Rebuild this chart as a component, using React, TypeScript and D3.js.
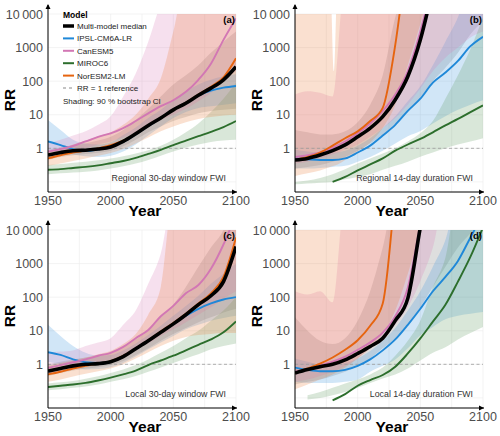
import React from 'react';
import * as d3 from 'd3';

// shared x grid for every series (10-year steps)
const years = [1950, 1960, 1970, 1980, 1990, 2000, 2010, 2020, 2030, 2040, 2050, 2060, 2070, 2080, 2090, 2100];
const yTicks = [1, 10, 100, 1000, 10000];
const yTickLabels = ['1', '10', '100', '1000', '10\u2009000'];
const xTicks = [1950, 2000, 2050, 2100];
const BIG = 1e5; // off the top of the chart

// (a) Regional 30-day window FWI
const a_med = [0.63, 0.75, 0.85, 0.88, 0.95, 1.1, 1.6, 2.7, 4.8, 8, 14, 22, 38, 62, 110, 270];
const a_medLo = [0.45, 0.55, 0.62, 0.68, 0.74, 0.85, 1.15, 1.8, 3, 4.5, 6.5, 8.5, 11, 13, 14, 15];
const a_medHi = [0.9, 1.05, 1.2, 1.4, 1.7, 2.2, 3.5, 7, 15, 35, 80, 150, 300, 700, 1500, 3000];
const a_ipsl = [1.6, 1.25, 0.95, 0.83, 0.92, 1.1, 1.55, 2.6, 4.6, 8, 14.5, 23, 37, 52, 64, 72];
const a_ipslLo = [0.9, 0.75, 0.65, 0.58, 0.55, 0.6, 0.8, 1.3, 2.4, 4.5, 8, 12, 16, 18, 20, 22];
const a_ipslHi = [7, 3.5, 1.8, 1.4, 1.3, 1.5, 2.5, 4.2, 8, 14, 28, 50, 80, 110, 140, 160];
const a_can = [0.8, 0.95, 1.17, 1.6, 2.2, 2.8, 4, 6.5, 11, 18, 27, 48, 110, 330, 1700, 7400];
const a_canLo = [0.55, 0.65, 0.8, 1.0, 1.3, 1.6, 2.1, 3, 4.5, 7, 10, 15, 25, 45, 100, 200];
const a_canHi = [1.4, 1.8, 2.4, 3.2, 5, 9, 35, 170, 1500, 20000, BIG, BIG, BIG, BIG, BIG, BIG];
const a_mir = [0.23, 0.24, 0.26, 0.28, 0.31, 0.36, 0.42, 0.52, 0.68, 0.9, 1.25, 1.7, 2.3, 3.1, 4.3, 6.5];
const a_mirLo = [0.17, 0.18, 0.19, 0.2, 0.22, 0.25, 0.29, 0.35, 0.45, 0.6, 0.8, 1.05, 1.3, 1.55, 1.7, 1.8];
const a_mirHi = [0.32, 0.34, 0.37, 0.4, 0.44, 0.5, 0.58, 0.7, 0.88, 1.2, 1.8, 3, 5.5, 12, 30, 90];
const a_nor = [0.5, 0.62, 0.75, 0.85, 1.0, 1.25, 1.7, 2.7, 4.8, 8, 14, 23, 40, 68, 130, 480];
const a_norLo = [0.3, 0.35, 0.42, 0.5, 0.6, 0.72, 0.95, 1.4, 2.1, 3.2, 4.5, 6, 7.5, 8.5, 9.5, 10];
const a_norHi = [0.8, 1, 1.3, 1.7, 2.3, 3, 5, 10, 30, 120, 3000, BIG, BIG, BIG, BIG, BIG];

// (b) Regional 14-day duration FWI
const b_med = [0.45, 0.5, 0.63, 0.85, 1.26, 2.2, 4, 8.8, 28, 137, 1700, 60000, null, null, null, null];
const b_medLo = [0.25, 0.28, 0.32, 0.4, 0.55, 0.85, 1.4, 2.6, 5.5, 14, 33, 100, 250, 700, 2500, 6000];
const b_medHi = [3.5, 3, 2.6, 2.6, 3.2, 6, 20, 150, 8000, BIG, BIG, BIG, BIG, BIG, BIG, BIG];
const b_ipsl = [0.5, 0.47, 0.45, 0.45, 0.5, 0.75, 1.2, 2.4, 5, 13, 30, 90, 180, 400, 1100, 2100];
const b_ipslLo = [0.25, 0.25, 0.26, 0.28, 0.3, 0.4, 0.55, 0.85, 1.4, 2.3, 3.3, 5.5, 9, 14, 20, 27];
const b_ipslHi = [0.9, 0.8, 0.75, 0.75, 0.85, 1.2, 2, 4, 9, 25, 70, 300, 1500, 8000, BIG, BIG];
const b_can = [0.55, 0.62, 0.75, 1.05, 1.6, 2.8, 5.5, 13, 40, 200, 3000, BIG, null, null, null, null];
const b_canLo = [0.35, 0.4, 0.5, 0.65, 0.9, 1.3, 2.2, 4, 8, 20, 60, 200, 500, 1000, 2000, 3000];
const b_canHi = [40, 50, 45, 35, BIG, BIG, BIG, BIG, BIG, BIG, BIG, BIG, BIG, BIG, BIG, BIG];
const b_mir = [null, null, null, 0.1, 0.14, 0.22, 0.33, 0.5, 0.85, 1.3, 1.9, 3.0, 4.8, 7.5, 12, 19];
const b_mirLo = [0.085, 0.09, 0.095, 0.1, 0.12, 0.14, 0.17, 0.23, 0.3, 0.4, 0.56, 0.75, 1.0, 1.3, 1.6, 2];
const b_mirHi = [0.1, 0.11, 0.13, 0.17, 0.24, 0.35, 0.5, 0.7, 1.0, 1.6, 2.8, 6.5, 30, 150, 900, 8000];
const b_nor = [0.45, 0.55, 0.75, 1.2, 2.0, 3.2, 6.5, 16, 1200, 1e6, null, null, null, null, null, null];
// NorESM2 CI in (b) has a narrow dip near 1981, so it gets its own year grid
const b_norCiYears = [1950, 1960, 1970, 1978, 1981, 1984, 1990, 2000, 2010, 2020, 2030, 2040, 2050, 2060];
const b_norLo = [0.15, 0.18, 0.22, 0.28, 0.3, 0.33, 0.45, 0.8, 1.5, 4, 20, 300, 5000, BIG];
const b_norHi = [BIG, BIG, BIG, BIG, 200, BIG, BIG, BIG, BIG, BIG, BIG, BIG, BIG, BIG];

// (c) Local 30-day window FWI
const c_med = [0.63, 0.75, 0.9, 1.0, 1.05, 1.2, 1.7, 2.9, 5, 9, 16, 30, 60, 110, 290, 3200];
const c_medLo = [0.45, 0.55, 0.65, 0.75, 0.82, 0.95, 1.25, 1.9, 3, 5, 8, 12, 18, 25, 35, 45];
const c_medHi = [1, 1.2, 1.4, 1.6, 1.8, 2.2, 3.2, 5.5, 10, 25, 60, 200, 800, 3000, 10000, BIG];
const c_ipsl = [2.3, 1.9, 1.4, 1.15, 1.1, 1.2, 1.7, 2.9, 5, 9, 16, 28, 45, 65, 85, 100];
const c_ipslLo = [1.2, 1.0, 0.8, 0.7, 0.72, 0.82, 1.1, 1.7, 2.8, 4.5, 7, 11, 15, 20, 24, 28];
const c_ipslHi = [15, 7, 3.5, 2.2, 1.8, 1.9, 2.6, 4.2, 7.5, 14, 28, 55, 110, 250, 500, 1000];
const c_can = [0.78, 0.95, 1.15, 1.4, 1.8, 2.2, 3.3, 6, 10.5, 27, 55, 130, 230, 700, 3700, 30000];
const c_canLo = [0.5, 0.6, 0.72, 0.88, 1.1, 1.4, 1.9, 2.8, 4.2, 7, 11, 18, 30, 50, 90, 150];
const c_canHi = [2.2, 2.4, 2.6, 3.5, 4.5, 6, 15, 40, 250, 2000, BIG, BIG, BIG, BIG, BIG, BIG];
const c_mir = [0.21, 0.23, 0.25, 0.28, 0.33, 0.4, 0.5, 0.65, 0.95, 1.3, 1.8, 2.6, 3.8, 5.5, 9, 19];
const c_mirLo = [0.17, 0.18, 0.2, 0.22, 0.25, 0.3, 0.36, 0.45, 0.6, 0.8, 1.1, 1.5, 2, 2.8, 3.5, 4.2];
const c_mirHi = [0.27, 0.29, 0.32, 0.37, 0.44, 0.55, 0.7, 0.95, 1.4, 2.2, 3.5, 6, 10, 20, 40, 100];
const c_nor = [0.5, 0.6, 0.75, 0.9, 1.05, 1.25, 1.8, 3, 5.2, 9.5, 17, 32, 65, 130, 400, 6000];
const c_norLo = [0.3, 0.35, 0.43, 0.52, 0.62, 0.75, 1, 1.5, 2.3, 3.5, 5, 6.5, 7.5, 8, 8.5, 8.5];
const c_norHi = [0.9, 1.1, 1.3, 1.6, 2, 2.5, 4, 8, 30, 200, BIG, BIG, BIG, BIG, BIG, BIG];

// (d) Local 14-day duration FWI
const d_med = [0.55, 0.7, 0.85, 1.0, 1.35, 2.1, 3.4, 6, 20, 92, 12000, 1e6, null, null, null, null];
const d_medLo = [0.25, 0.3, 0.35, 0.45, 0.6, 0.9, 1.5, 3, 6, 15, 50, 200, 800, 3000, 8000, 20000];
const d_medHi = [25, 10, 5, 4, 6, 20, 150, 3000, BIG, BIG, BIG, BIG, BIG, BIG, BIG, BIG];
const d_ipsl = [0.8, 0.68, 0.62, 0.62, 0.68, 0.9, 1.4, 2.6, 5.5, 15, 45, 150, 400, 1200, 6000, 30000];
const d_ipslLo = [0.3, 0.28, 0.28, 0.28, 0.3, 0.35, 0.6, 0.9, 1.4, 3, 7.4, 13, 22, 28, 32, 36];
const d_ipslHi = [1.5, 1.2, 1.0, 1.0, 1.1, 1.5, 2.5, 5, 12, 40, 150, 800, 5000, BIG, BIG, BIG];
const d_can = [0.6, 0.72, 0.92, 1.2, 1.7, 2.7, 4.5, 8.8, 27, 190, 15000, 1e6, null, null, null, null];
const d_canLo = [0.3, 0.35, 0.45, 0.6, 0.9, 1.5, 3, 6, 15, 50, 300, 3000, BIG, BIG, BIG, BIG];
const d_canHi = [150, 120, 150, 70, BIG, BIG, BIG, BIG, BIG, BIG, BIG, BIG, BIG, BIG, BIG, BIG];
const d_mir = [null, null, null, 0.085, 0.13, 0.23, 0.34, 0.48, 0.85, 2.1, 5.9, 18.6, 59, 290, 1600, 12000];
const d_mirLo = [null, 0.09, 0.1, 0.12, 0.15, 0.2, 0.28, 0.38, 0.5, 0.75, 1.3, 2.2, 3.2, 5.5, 8.5, 13];
const d_mirHi = [null, 0.12, 0.15, 0.2, 0.27, 0.35, 0.5, 0.8, 1.8, 5, 20, 200, 1500, BIG, BIG, BIG];
const d_nor = [0.55, 0.75, 1.05, 1.6, 2.7, 5.2, 14, 65, 2e5, null, null, null, null, null, null, null];
const d_norLo = [0.18, 0.25, 0.35, 0.5, 0.8, 1.5, 3, 8, 40, 500, 8000, BIG, BIG, BIG, BIG, BIG];
const d_norHi = [BIG, BIG, BIG, BIG, BIG, BIG, BIG, BIG, BIG, BIG, BIG, BIG, BIG, BIG, BIG, BIG];

const models = ['Multi-model median', 'IPSL-CM6A-LR', 'CanESM5', 'MIROC6', 'NorESM2-LM'];
const colors = ['#000000', '#1f88d8', '#d277b4', '#2c6e2c', '#e6640f'];
const ciColors = ['#8a8a8a', '#3d97dc', '#d87fb8', '#5f9a5f', '#ec7d3a'];

type Val = number | null;
interface Series { mid: Val[]; lo: Val[]; hi: Val[]; ciYears?: number[] }

const panels = [
  { tag: 'a', x0: 48, top: 14, note: 'Regional 30-day window FWI', legend: true,
    series: [
      { mid: a_med, lo: a_medLo, hi: a_medHi },
      { mid: a_ipsl, lo: a_ipslLo, hi: a_ipslHi },
      { mid: a_can, lo: a_canLo, hi: a_canHi },
      { mid: a_mir, lo: a_mirLo, hi: a_mirHi },
      { mid: a_nor, lo: a_norLo, hi: a_norHi },
    ] as Series[] },
  { tag: 'b', x0: 295, top: 14, note: 'Regional 14-day duration FWI', legend: false,
    series: [
      { mid: b_med, lo: b_medLo, hi: b_medHi },
      { mid: b_ipsl, lo: b_ipslLo, hi: b_ipslHi },
      { mid: b_can, lo: b_canLo, hi: b_canHi },
      { mid: b_mir, lo: b_mirLo, hi: b_mirHi },
      { mid: b_nor, lo: b_norLo, hi: b_norHi, ciYears: b_norCiYears },
    ] as Series[] },
  { tag: 'c', x0: 48, top: 230, note: 'Local 30-day window FWI', legend: false,
    series: [
      { mid: c_med, lo: c_medLo, hi: c_medHi },
      { mid: c_ipsl, lo: c_ipslLo, hi: c_ipslHi },
      { mid: c_can, lo: c_canLo, hi: c_canHi },
      { mid: c_mir, lo: c_mirLo, hi: c_mirHi },
      { mid: c_nor, lo: c_norLo, hi: c_norHi },
    ] as Series[] },
  { tag: 'd', x0: 295, top: 230, note: 'Local 14-day duration FWI', legend: false,
    series: [
      { mid: d_med, lo: d_medLo, hi: d_medHi },
      { mid: d_ipsl, lo: d_ipslLo, hi: d_ipslHi },
      { mid: d_can, lo: d_canLo, hi: d_canHi },
      { mid: d_mir, lo: d_mirLo, hi: d_mirHi },
      { mid: d_nor, lo: d_norLo, hi: d_norHi },
    ] as Series[] },
];

const PW = 188;
const PH = 178;
const FONT = '"Liberation Sans", Arial, Helvetica, sans-serif';

const Legend = ({ x, y }: { x: number; y: number }) => (
  <g fontFamily={FONT}>
    <text x={x} y={y + 7} fontSize={8.5} fontWeight="bold">Model</text>
    {models.map((m, i) => {
      const cy = y + 15 + i * 12.4;
      return (
        <g key={m}>
          <line x1={x} x2={x + 11} y1={cy} y2={cy} stroke={colors[i]} strokeWidth={i === 0 ? 3.5 : 2} />
          <text x={x + 14} y={cy + 3} fontSize={8} fill="#222">{m}</text>
        </g>
      );
    })}
    <line x1={x} x2={x + 11} y1={y + 77} y2={y + 77} stroke="#888" strokeWidth={1} strokeDasharray="3,3" />
    <text x={x + 14} y={y + 80} fontSize={8} fill="#222">RR = 1 reference</text>
    <text x={x} y={y + 92.5} fontSize={8} fill="#222">Shading: 90 % bootstrap CI</text>
  </g>
);

const Panel = ({ p }: { p: typeof panels[number] }) => {
  const x = d3.scaleLinear().domain([1950, 2100]).range([p.x0, p.x0 + PW]);
  const y = d3.scaleLog().domain([0.05, 10000]).range([p.top + PH, p.top]);
  const bottom = p.top + PH;
  const clipId = `clip-${p.tag}`;

  const line = d3.line<[number, Val]>()
    .defined(d => d[1] != null)
    .x(d => x(d[0]))
    .y(d => y(d[1] as number))
    .curve(d3.curveMonotoneX);

  const area = d3.area<[number, Val, Val]>()
    .defined(d => d[1] != null && d[2] != null)
    .x(d => x(d[0]))
    .y0(d => y(d[1] as number))
    .y1(d => y(d[2] as number))
    .curve(d3.curveMonotoneX);

  const drawOrder = [1, 2, 3, 4, 0];

  return (
    <g>
      <defs>
        <clipPath id={clipId}>
          <rect x={p.x0} y={p.top} width={PW} height={PH} />
        </clipPath>
      </defs>
      {/* grid */}
      {[1950, 1975, 2000, 2025, 2050, 2075, 2100].map(t => (
        <line key={'gx' + t} x1={x(t)} x2={x(t)} y1={p.top} y2={bottom} stroke="#ebebeb" strokeWidth={0.6} />
      ))}
      {[0.1, 1, 10, 100, 1000, 10000].map(t => (
        <line key={'gy' + t} x1={p.x0} x2={p.x0 + PW} y1={y(t)} y2={y(t)} stroke="#ebebeb" strokeWidth={0.6} />
      ))}
      <g clipPath={`url(#${clipId})`}>
        {p.series.map((s, i) => {
          const yrs = s.ciYears ?? years;
          const pts = yrs.map((yr, k) => [yr, s.lo[k], s.hi[k]] as [number, Val, Val]);
          return <path key={'ci' + i} d={area(pts) ?? ''} fill={ciColors[i]} fillOpacity={i === 0 ? 0.28 : 0.24} stroke="none" />;
        })}
        <line x1={p.x0} x2={p.x0 + PW} y1={y(1)} y2={y(1)} stroke="#9a9a9a" strokeWidth={0.8} strokeDasharray="3,2.5" />
        {drawOrder.map(i => {
          const s = p.series[i];
          const pts = years.map((yr, k) => [yr, s.mid[k]] as [number, Val]);
          return <path key={'l' + i} d={line(pts) ?? ''} fill="none" stroke={colors[i]} strokeWidth={i === 0 ? 3.6 : 1.9} strokeLinejoin="round" />;
        })}
      </g>
      {/* axes with arrows */}
      <line x1={p.x0} x2={p.x0} y1={bottom} y2={p.top - 9} stroke="#000" strokeWidth={1} />
      <path d={`M${p.x0 - 2.5},${p.top - 5} L${p.x0},${p.top - 10} L${p.x0 + 2.5},${p.top - 5} Z`} fill="#000" />
      <line x1={p.x0} x2={p.x0 + PW + 1} y1={bottom} y2={bottom} stroke="#000" strokeWidth={1} />
      <path d={`M${p.x0 + PW - 4},${bottom - 2.5} L${p.x0 + PW + 1},${bottom} L${p.x0 + PW - 4},${bottom + 2.5} Z`} fill="#000" />
      <g fontFamily={FONT}>
        {yTicks.map((t, i) => (
          <text key={'yt' + t} x={p.x0 - 5} y={y(t)} dy="0.36em" textAnchor="end" fontSize={12.5} fill="#4d4d4d">{yTickLabels[i]}</text>
        ))}
        {xTicks.map(t => (
          <text key={'xt' + t} x={x(t)} y={bottom + 13} textAnchor="middle" fontSize={12.5} fill="#4d4d4d">{t}</text>
        ))}
        <text x={p.x0 + 97} y={bottom + 24} textAnchor="middle" fontSize={15.5} fontWeight="bold">Year</text>
        <text transform={`translate(${p.x0 - 33},${p.top + 86}) rotate(-90)`} textAnchor="middle" fontSize={15.5} fontWeight="bold">RR</text>
        <text x={p.x0 + PW - 1} y={p.top + 9} textAnchor="end" fontSize={9.5} fontWeight="bold">({p.tag})</text>
        <text x={p.x0 + 178} y={p.top + 167} textAnchor="end" fontSize={8.8} fill="#333">{p.note}</text>
      </g>
      {p.legend && <Legend x={63} y={11} />}
    </g>
  );
};

export default function App() {
  return (
    <svg width={500} height={436} style={{ position: 'absolute', left: 0, top: 0, background: '#fff' }}>
      <rect width={500} height={436} fill="#fff" />
      {panels.map(p => <Panel key={p.tag} p={p} />)}
    </svg>
  );
}
